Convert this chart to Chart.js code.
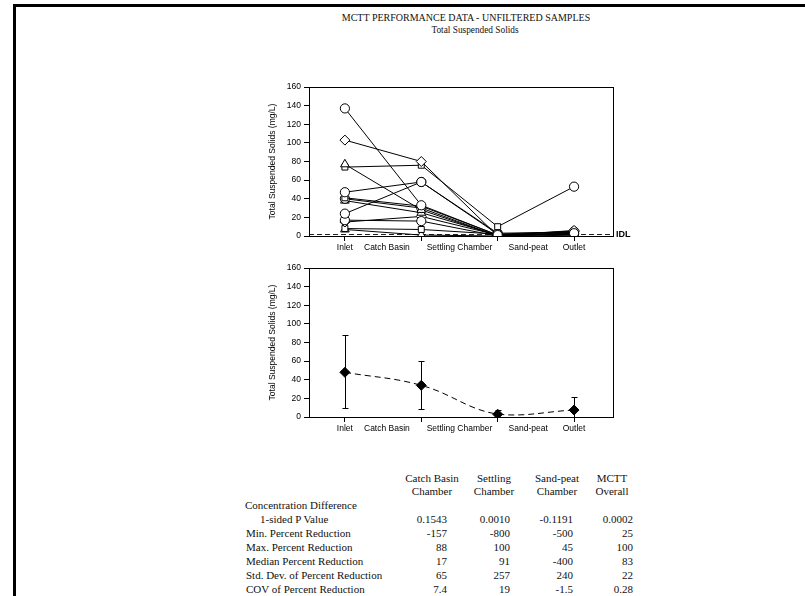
<!DOCTYPE html>
<html><head><meta charset="utf-8">
<script src="https://cdn.jsdelivr.net/npm/chart.js@4/dist/chart.umd.min.js"></script>
<style>
html,body{margin:0;padding:0;background:#fff;}
body{width:805px;height:596px;position:relative;overflow:hidden;font-family:"Liberation Serif","Times New Roman",serif;color:#111;}
#topRule{position:absolute;left:13px;top:4px;width:792px;height:3px;background:#000;}
#leftRule{position:absolute;left:13px;top:4px;width:3px;height:592px;background:#000;}
.t{position:absolute;white-space:nowrap;line-height:12px;font-size:11px;}
.title{position:absolute;width:400px;text-align:center;line-height:12px;white-space:nowrap;}
.cw{position:absolute;left:250px;width:420px;height:185px;}
</style></head><body>
<div id="topRule"></div><div id="leftRule"></div>
<div class="title" style="top:12px;left:266px;font-size:10px">MCTT PERFORMANCE DATA - UNFILTERED SAMPLES</div>
<div class="title" style="top:24px;left:275px;font-size:9.3px">Total Suspended Solids</div>
<div class="cw" style="top:75px"><canvas id="c1"></canvas></div>
<div class="cw" style="top:255.5px"><canvas id="c2"></canvas></div>
<div id="table"></div>
<script>
// ---------- data ----------
const stations = [0, 1, 2, 3];                 // sampling points along the treatment train
const axisLabels = ['Inlet', 'Catch Basin', 'Settling Chamber', 'Sand-peat', 'Outlet'];
const axisLabelAt = [0, 0.55, 1.5, 2.4, 3];    // where each label sits on the station axis
const yMin = 0, yMax = 160, yStep = 20;
const IDL = 2;                                  // instrument detection limit (mg/L)

// individual storm events (Inlet, after Catch Basin, after Settling Chamber, Outlet)
const ev01 = [137, 33, 1, 3];
const ev02 = [103, 80, 0, 6];
const ev03 = [77, 28, 0, 4];
const ev04 = [74, 76, 10, 53];
const ev05 = [47, 58, 2, 5];
const ev06 = [41, 32, 1, 2];
const ev07 = [40, 30, 0, 3];
const ev08 = [38, 25, 1, 1];
const ev09 = [24, 58, 3, 4];
const ev10 = [17, 16, 0, 2];
const ev11 = [15, 21, 1, 5];
const ev12 = [8, 7, 2, 0];
const ev13 = [7, 1, 0, 3];

// summary (mean with error bars)
const meanTSS = [48, 34, 3, 7.5];
const errHigh = [88, 60, 7, 22];
const errLow  = [10, 9, 0, 0];

// table
const tableColumns = [['Catch Basin', 'Chamber'], ['Settling', 'Chamber'], ['Sand-peat', 'Chamber'], ['MCTT', 'Overall']];
const rowConcDiff = 'Concentration Difference';
const rowLabels = ['1-sided P Value', 'Min. Percent Reduction', 'Max. Percent Reduction', 'Median Percent Reduction', 'Std. Dev. of Percent Reduction', 'COV of Percent Reduction'];
const pValue    = ['0.1543', '0.0010', '-0.1191', '0.0002'];
const minRed    = ['-157', '-800', '-500', '25'];
const maxRed    = ['88', '100', '45', '100'];
const medianRed = ['17', '91', '-400', '83'];
const stdRed    = ['65', '257', '240', '22'];
const covRed    = ['7.4', '19', '-1.5', '0.28'];
// ---------- end data ----------

// ---- table (HTML text) ----
(function(){
  const tb = document.getElementById('table');
  const colCenter = [432, 494, 557, 612];
  const colRight = [447, 510, 573, 633];
  const put = (txt, left, top, w, align) => {
    const d = document.createElement('div');
    d.className = 't';
    d.textContent = txt;
    d.style.top = top + 'px';
    if (align === 'left') { d.style.left = left + 'px'; }
    else { d.style.left = left + 'px'; d.style.width = w + 'px'; d.style.textAlign = align; }
    tb.appendChild(d);
  };
  tableColumns.forEach((c, i) => {
    put(c[0], colCenter[i] - 50, 472, 100, 'center');
    put(c[1], colCenter[i] - 50, 485, 100, 'center');
  });
  put(rowConcDiff, 245, 499, 0, 'left');
  const rows = [pValue, minRed, maxRed, medianRed, stdRed, covRed];
  rows.forEach((r, ri) => {
    const top = 513 + ri * 14;
    put(rowLabels[ri], ri === 0 ? 260 : 246, top, 0, 'left');
    r.forEach((v, ci) => put(v, colRight[ci] - 100, top, 100, 'right'));
  });
})();

// ---- charts ----
const AX_FONT = {family: '"Liberation Sans", Arial, sans-serif', size: 8.5};
const tickVals = [...new Set([...stations, ...axisLabelAt])].sort((a, b) => a - b);
const near = (a, b) => Math.abs(a - b) < 1e-6;

function xScale(){
  return {
    type: 'linear', min: -0.47, max: 3.51,
    afterBuildTicks: s => { s.ticks = tickVals.map(v => ({value: v})); },
    afterFit: s => { s.height = 24; },
    ticks: {
      autoSkip: false, maxRotation: 0, minRotation: 0, padding: 2, color: '#000', font: AX_FONT,
      callback: v => { const i = axisLabelAt.findIndex(a => near(a, v)); return i >= 0 ? axisLabels[i] : ''; }
    },
    grid: {
      drawOnChartArea: false, tickLength: 5, lineWidth: 1,
      color: c => (c.tick && stations.some(s => near(s, c.tick.value))) ? '#000' : 'rgba(0,0,0,0)',
      tickColor: c => (c.tick && stations.some(s => near(s, c.tick.value))) ? '#000' : 'rgba(0,0,0,0)'
    },
    border: {display: true, color: '#000', width: 1}
  };
}
function yScale(){
  return {
    type: 'linear', min: yMin, max: yMax,
    afterFit: s => { s.width = 59; },
    ticks: {stepSize: yStep, padding: 3, color: '#000', font: AX_FONT},
    grid: {drawOnChartArea: false, tickLength: 5, color: '#000', tickColor: '#000'},
    border: {display: true, color: '#000', width: 1},
    title: {display: true, text: 'Total Suspended Solids (mg/L)', color: '#000', font: AX_FONT, padding: {top: 18, bottom: 0}}
  };
}
const framePlugin = {
  id: 'frame',
  afterDatasetsDraw(chart){
    const a = chart.chartArea, ctx = chart.ctx;
    ctx.save();
    ctx.strokeStyle = '#000'; ctx.lineWidth = 1;
    ctx.strokeRect(Math.round(a.left) + 0.5, Math.round(a.top) + 0.5, Math.round(a.right - a.left), Math.round(a.bottom - a.top));
    ctx.restore();
  }
};
const idlPlugin = {
  id: 'idl',
  beforeDatasetsDraw(chart){
    const a = chart.chartArea, ctx = chart.ctx;
    const y = Math.round(chart.scales.y.getPixelForValue(IDL)) + 0.5;
    ctx.save();
    ctx.strokeStyle = '#222'; ctx.lineWidth = 1; ctx.setLineDash([5, 3]);
    ctx.beginPath(); ctx.moveTo(a.left, y); ctx.lineTo(a.right, y); ctx.stroke();
    ctx.setLineDash([]);
    ctx.fillStyle = '#000'; ctx.font = 'bold 9px "Liberation Sans", Arial, sans-serif';
    ctx.textBaseline = 'middle'; ctx.textAlign = 'left';
    ctx.fillText('IDL', a.right + 3, y);
    ctx.restore();
  }
};
const errPlugin = {
  id: 'errbars',
  beforeDatasetsDraw(chart){
    const ctx = chart.ctx, xs = chart.scales.x, ys = chart.scales.y;
    ctx.save();
    ctx.strokeStyle = '#000'; ctx.lineWidth = 1;
    stations.forEach((s, i) => {
      const x = Math.round(xs.getPixelForValue(s)) + 0.5;
      const yh = Math.round(ys.getPixelForValue(errHigh[i])) + 0.5;
      const yl = Math.round(ys.getPixelForValue(errLow[i])) + 0.5;
      ctx.beginPath();
      ctx.moveTo(x, yh); ctx.lineTo(x, yl);
      ctx.moveTo(x - 3, yh); ctx.lineTo(x + 3, yh);
      ctx.moveTo(x - 3, yl); ctx.lineTo(x + 3, yl);
      ctx.stroke();
    });
    ctx.restore();
  }
};

const events = [
  [ev01, 'circle'], [ev02, 'rectRot'], [ev03, 'triangle'], [ev04, ['rect', 'rect', 'rect', 'circle']],
  [ev05, 'circle'], [ev06, 'rect'], [ev07, 'circle'], [ev08, 'triangle'], [ev09, 'circle'],
  [ev10, 'circle'], [ev11, 'rectRot'], [ev12, 'rect'], [ev13, 'triangle']
];
const radiusFor = st => st === 'rectRot' ? 5 : (st === 'triangle' ? 5 : (st === 'rect' ? 4.2 : 4.6));

new Chart(document.getElementById('c1'), {
  type: 'scatter',
  data: {
    datasets: events.map(([vals, st]) => ({
      data: stations.map((x, i) => ({x, y: vals[i]})),
      showLine: true, borderColor: '#000', borderWidth: 1,
      pointStyle: st, pointBackgroundColor: '#fff', pointBorderColor: '#000', pointBorderWidth: 1,
      pointRadius: Array.isArray(st) ? st.map(radiusFor) : radiusFor(st)
    }))
  },
  options: {
    responsive: true, maintainAspectRatio: false, animation: false, devicePixelRatio: 1,
    layout: {padding: {left: 0, top: 12, right: 57, bottom: 0}},
    plugins: {legend: {display: false}, tooltip: {enabled: false}},
    scales: {x: xScale(), y: yScale()}
  },
  plugins: [framePlugin, idlPlugin]
});

new Chart(document.getElementById('c2'), {
  type: 'scatter',
  data: {
    datasets: [{
      data: stations.map((x, i) => ({x, y: meanTSS[i]})),
      showLine: true, borderColor: '#000', borderWidth: 1, borderDash: [6, 4], tension: 0.4,
      pointStyle: 'rectRot', pointRadius: 5, pointBackgroundColor: '#000', pointBorderColor: '#000'
    }]
  },
  options: {
    responsive: true, maintainAspectRatio: false, animation: false, devicePixelRatio: 1,
    layout: {padding: {left: 0, top: 12, right: 57, bottom: 0}},
    plugins: {legend: {display: false}, tooltip: {enabled: false}},
    scales: {x: xScale(), y: yScale()}
  },
  plugins: [framePlugin, errPlugin]
});
</script>
</body></html>
